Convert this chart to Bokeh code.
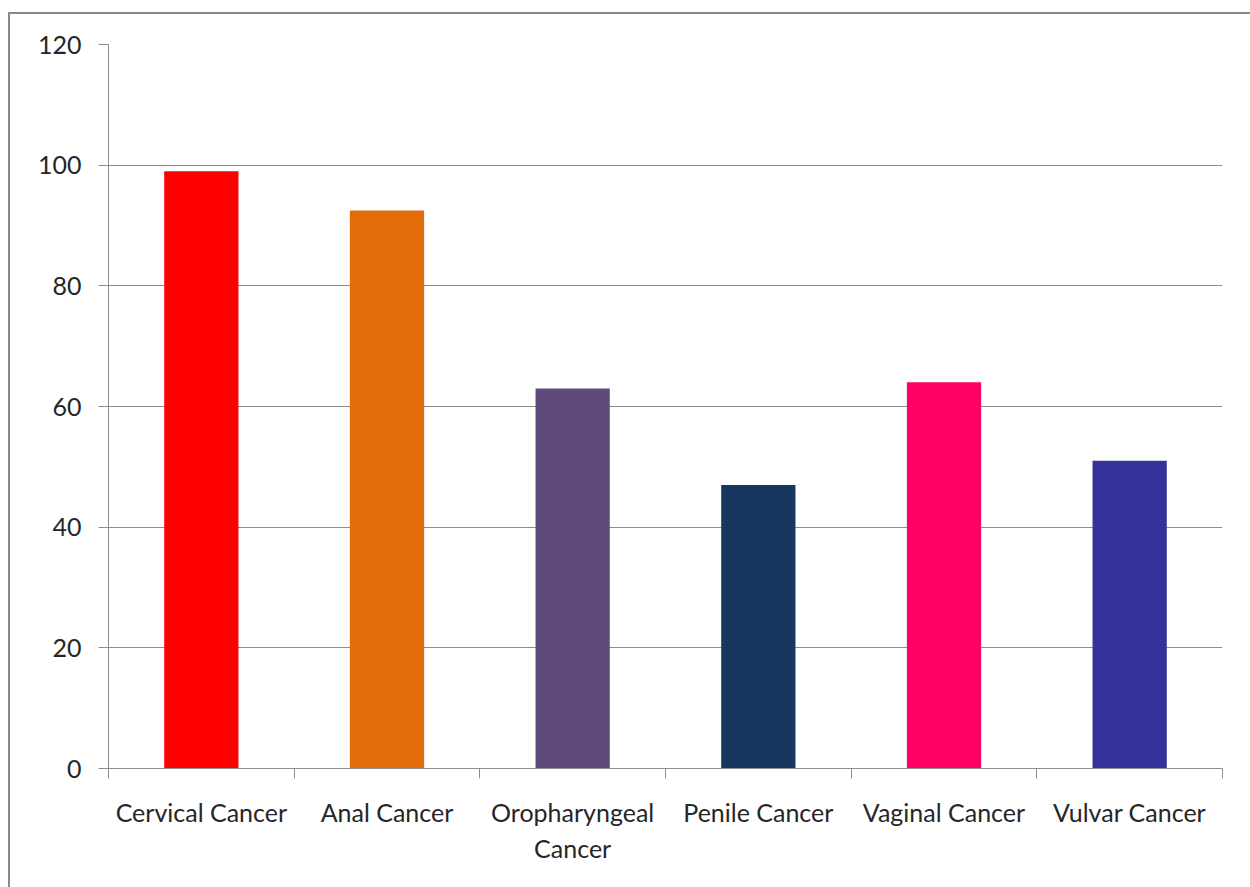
from bokeh.plotting import figure
from bokeh.models import Range1d, FixedTicker
from bokeh.embed import file_html
from bokeh.resources import INLINE

categories = ["Cervical Cancer", "Anal Cancer", "Oropharyngeal\nCancer",
              "Penile Cancer", "Vaginal Cancer", "Vulvar Cancer"]
values = [99, 92.5, 63, 47, 64, 51]
colors = ["#FF0000", "#E36C0A", "#604A7B", "#17375E", "#FF0066", "#333399"]
y_ticks = [0, 20, 40, 60, 80, 100, 120]

FONT = "Lato"
TXT = "#262626"
GRID = "#8C8C8C"

n = len(categories)
xs = [i + 0.5 for i in range(n)]

# figure element placed at (8, 12) in the window, with a grey left/top border
p = figure(width=1242, height=875, output_backend="svg", toolbar_location=None,
           x_range=Range1d(0, n), y_range=Range1d(0, 120),
           min_border_left=98, min_border_right=30, min_border_top=30,
           min_border_bottom=121)
p.margin = (12, 0, 0, 8)
p.styles = {"border-left": "2px solid #888888", "border-top": "2px solid #888888"}
p.outline_line_color = None
p.background_fill_color = "white"
p.border_fill_color = "white"

p.vbar(x=xs, top=values, width=0.4, color=colors, line_color=None)

# x axis
xa = p.xaxis[0]
xa.ticker = FixedTicker(ticks=xs, minor_ticks=list(range(n + 1)))
xa.major_label_overrides = {x: c for x, c in zip(xs, categories)}
xa.major_tick_out = 0
xa.major_tick_in = 0
xa.minor_tick_out = 10
xa.minor_tick_in = 0
xa.minor_tick_line_color = GRID
xa.axis_line_color = GRID
xa.major_label_text_font = FONT
xa.major_label_text_font_size = "25px"
xa.major_label_text_color = TXT
xa.major_label_standoff = 18

# y axis
ya = p.yaxis[0]
ya.ticker = FixedTicker(ticks=y_ticks)
ya.major_tick_out = 10
ya.major_tick_in = 0
ya.minor_tick_line_color = None
ya.major_tick_line_color = GRID
ya.axis_line_color = GRID
ya.major_label_text_font = FONT
ya.major_label_text_font_size = "25px"
ya.major_label_text_color = TXT
ya.major_label_standoff = 17

p.xgrid.grid_line_color = None
p.ygrid.ticker = FixedTicker(ticks=y_ticks)
p.ygrid.grid_line_color = GRID
p.ygrid.grid_line_width = 1

open("out.html", "w").write(file_html(p, INLINE))
